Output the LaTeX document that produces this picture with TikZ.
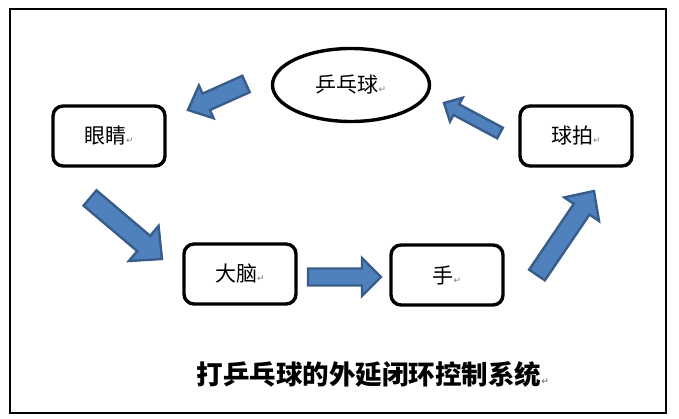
\documentclass[tikz,border=0pt]{standalone}
\usepackage{fontspec}
\setmainfont{Noto Sans CJK SC}
\newfontfamily\markfont{DejaVu Sans}
\usetikzlibrary{calc}
\definecolor{arrowfill}{HTML}{4F81BD}
\definecolor{arrowedge}{HTML}{385D8A}
\tikzset{
  stepbox/.style={draw=black, line width=3.4pt, rounded corners=10pt, minimum width=112pt, minimum height=60pt, inner sep=0pt, font=\fontsize{21}{21}\selectfont},
  ballnode/.style={draw=black, line width=3.4pt, ellipse, minimum width=157pt, minimum height=73pt, inner sep=0pt, font=\fontsize{21}{21}\selectfont},
  blockarrow/.style={fill=arrowfill, draw=arrowedge, line width=2.4pt, line join=miter},
  frame/.style={draw=black, line width=2pt}
}
\usetikzlibrary{shapes.geometric}
\newcommand{\pmark}{{\markfont\fontsize{9}{9}\selectfont\color{gray}↵}}
% #1 tail, #2 tip, #3 shaft half width, #4 head half width, #5 head length, #6 name
\newcommand{\blockarr}[6]{%
  \coordinate (#6c) at ($(#2)!#5!(#1)$);
  \draw[blockarrow] ($(#1)!#3!90:(#2)$) -- ($(#6c)!#3!-90:(#1)$) -- ($(#6c)!#4!-90:(#1)$) -- (#2)
    -- ($(#6c)!#4!90:(#1)$) -- ($(#6c)!#3!90:(#1)$) -- ($(#1)!#3!-90:(#2)$) -- cycle;
}
\begin{document}
\begin{tikzpicture}[x=1pt,y=-1pt]
\useasboundingbox (0,0) rectangle (679,419);
\draw[frame] (10,9) rectangle (666,413);

\node[ballnode] (ball) at (351,85) {乒乓球\pmark};
\node[stepbox] (eye) at (109,136) {眼睛\pmark};
\node[stepbox] (brain) at (240,274) {大脑\pmark};
\node[stepbox] (hand) at (447,275) {手\pmark};
\node[stepbox] (bat) at (576,136) {球拍\pmark};

\node[font=\bfseries\fontsize{26.5}{26.5}\selectfont] (title) at (373,374) {打乒乓球的外延闭环控制系统\pmark};

% arrow end points
\coordinate (a1t) at (246,84);  \coordinate (a1h) at (188,110);
\coordinate (a2t) at (90,198);  \coordinate (a2h) at (162,259);
\coordinate (a3t) at (308,277); \coordinate (a3h) at (381,277);
\coordinate (a4t) at (537,275); \coordinate (a4h) at (594,191);
\coordinate (a5t) at (500,133); \coordinate (a5h) at (444,103);

\blockarr{a1t}{a1h}{9pt}{18pt}{20pt}{a1}
\blockarr{a2t}{a2h}{10pt}{23pt}{24pt}{a2}
\blockarr{a3t}{a3h}{8.5pt}{19pt}{19pt}{a3}
\blockarr{a4t}{a4h}{9.5pt}{21pt}{22pt}{a4}
\blockarr{a5t}{a5h}{6pt}{13.5pt}{14pt}{a5}
\end{tikzpicture}
\end{document}
